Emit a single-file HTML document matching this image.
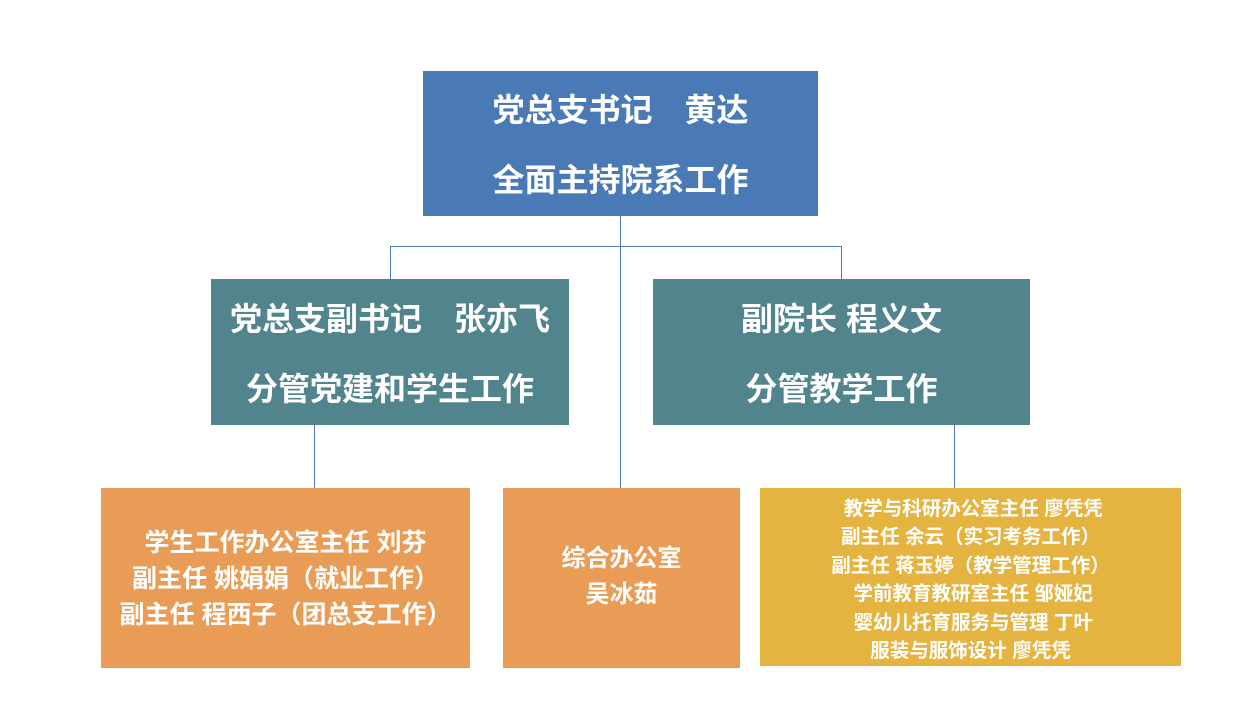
<!DOCTYPE html>
<html><head><meta charset="utf-8"><style>
body{margin:0;width:1244px;height:703px;background:#fff;position:relative;overflow:hidden;font-family:"Liberation Sans","Noto Sans CJK SC",sans-serif;font-weight:bold;color:#fff}
.b{position:absolute;text-align:center;white-space:nowrap}
.l{position:absolute;background:#4a7ab5}
.t{position:absolute;left:0;right:0;text-align:center}
</style></head><body>
<div class="l" style="left:620px;top:216px;width:1px;height:272px"></div>
<div class="l" style="left:390px;top:246px;width:451px;height:1px"></div>
<div class="l" style="left:390px;top:246px;width:1px;height:33px"></div>
<div class="l" style="left:841px;top:246px;width:1px;height:33px"></div>
<div class="l" style="left:314px;top:425px;width:1px;height:63px"></div>
<div class="l" style="left:954px;top:425px;width:1px;height:63px"></div>

<div class="b" style="left:423px;top:71px;width:395px;height:145px;background:#4a7ab5;font-size:32px">
<div class="t" style="top:14px">党总支书记　黄达</div>
<div class="t" style="top:84px">全面主持院系工作</div></div>

<div class="b" style="left:211px;top:279px;width:358px;height:146px;background:#52848e;font-size:32px">
<div class="t" style="top:15px">党总支副书记　张亦飞</div>
<div class="t" style="top:85px">分管党建和学生工作</div></div>

<div class="b" style="left:653px;top:279px;width:377px;height:146px;background:#52848e;font-size:32px">
<div class="t" style="top:15px">副院长  程义文</div>
<div class="t" style="top:85px">分管教学工作</div></div>

<div class="b" style="left:101px;top:488px;width:369px;height:180px;background:#e89c55;font-size:25px;line-height:36px">
<div class="t" style="top:37px">学生工作办公室主任  刘芬<br>副主任 姚娟娟（就业工作）<br>副主任 程西子（团总支工作）</div></div>

<div class="b" style="left:503px;top:488px;width:237px;height:180px;background:#e89c55;font-size:24px;line-height:36px">
<div class="t" style="top:53px">综合办公室<br>吴冰茹</div></div>

<div class="b" style="left:760px;top:488px;width:421px;height:178px;background:#e5b440;font-size:19.5px;line-height:28.4px">
<div class="t" style="top:7px">&nbsp;教学与科研办公室主任  廖凭凭<br>副主任 余云（实习考务工作）<br>副主任 蒋玉婷（教学管理工作）<br>&nbsp;学前教育教研室主任  邹娅妃<br>&nbsp;婴幼儿托育服务与管理 丁叶<br>服装与服饰设计 廖凭凭</div></div>
</body></html>
